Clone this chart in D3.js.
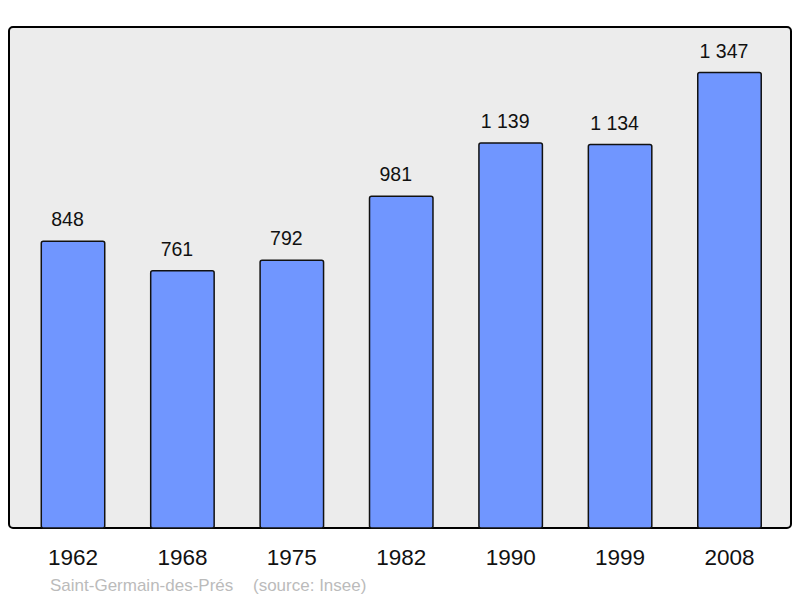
<!DOCTYPE html>
<html>
<head>
<meta charset="utf-8">
<script src="https://cdn.jsdelivr.net/npm/d3@7"></script>
<style>
  body { margin: 0; background: #fff; }
  text { font-family: "Liberation Sans", Arial, sans-serif; }
</style>
</head>
<body>
<svg id="chart" width="800" height="598"></svg>
<script>
// population by census year
const years = ['1962', '1968', '1975', '1982', '1990', '1999', '2008'];
const population = [848, 761, 792, 981, 1139, 1134, 1347];
const commune = 'Saint-Germain-des-Prés';
const source = '(source: Insee)';

const svg = d3.select('#chart');
const panel = { left: 9, top: 27, right: 791, bottom: 528 };

const x = d3.scaleBand()
    .domain(years)
    .range([18.3, 784.2])
    .paddingInner(0.42)
    .paddingOuter(0.21);

const y = d3.scaleLinear()
    .domain([0, d3.max(population) * 1.1])
    .range([panel.bottom, panel.top]);

const fmt = d3.formatLocale({ decimal: ',', thousands: '\u00a0', grouping: [3], currency: ['', ' €'] }).format(',d');

const data = years.map((yr, i) => ({ year: yr, value: population[i] }));

// background panel
svg.append('rect')
    .attr('x', panel.left)
    .attr('y', panel.top)
    .attr('width', panel.right - panel.left)
    .attr('height', panel.bottom - panel.top)
    .attr('rx', 4)
    .attr('fill', '#ececec')
    .attr('stroke', '#000')
    .attr('stroke-width', 2);

svg.append('g')
    .selectAll('rect')
    .data(data)
    .enter().append('rect')
    .attr('x', d => x(d.year))
    .attr('y', d => y(d.value))
    .attr('width', x.bandwidth())
    .attr('height', d => y(0) - y(d.value))
    .attr('rx', 2)
    .attr('fill', '#7096ff')
    .attr('stroke', '#111')
    .attr('stroke-width', 1.5);

// value labels (sit a little left of the bar centre in the original)
svg.append('g')
    .selectAll('text')
    .data(data)
    .enter().append('text')
    .attr('x', d => x(d.year) + x.bandwidth() / 2 - 5.5)
    .attr('y', d => y(d.value) - 15)
    .attr('text-anchor', 'middle')
    .attr('font-size', 19.5)
    .attr('fill', '#111')
    .text(d => fmt(d.value));

// year labels
svg.append('g')
    .selectAll('text')
    .data(data)
    .enter().append('text')
    .attr('x', d => x(d.year) + x.bandwidth() / 2)
    .attr('y', 564.5)
    .attr('text-anchor', 'middle')
    .attr('font-size', 22.5)
    .attr('fill', '#111')
    .text(d => d.year);

svg.append('text')
    .attr('x', 50)
    .attr('y', 591)
    .attr('font-size', 17)
    .attr('fill', '#bbb')
    .text(commune);

svg.append('text')
    .attr('x', 253)
    .attr('y', 591)
    .attr('font-size', 17)
    .attr('fill', '#bbb')
    .text(source);
</script>
</body>
</html>
